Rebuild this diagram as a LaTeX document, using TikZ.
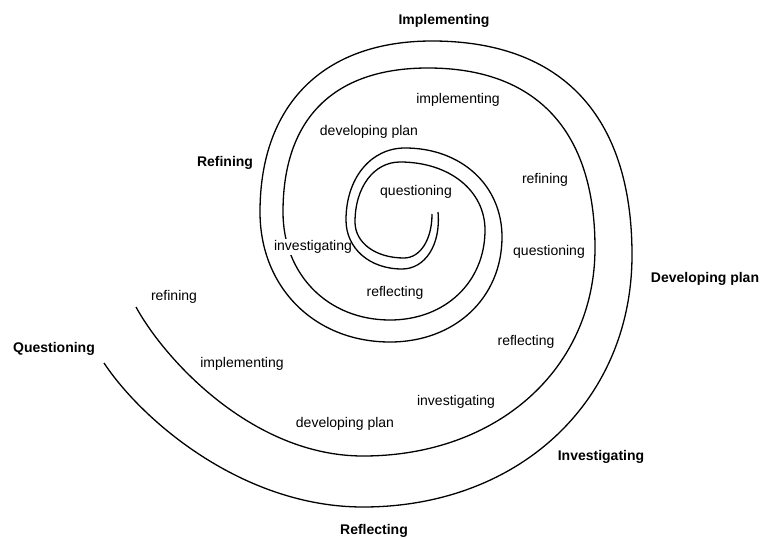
\documentclass[tikz,border=0pt]{standalone}
\usepackage{fontspec}
\setmainfont{Liberation Sans}
\begin{document}
\begin{tikzpicture}
        [x=1pt,y=-1pt,
        phase/.style={font=\fontsize{14}{16}\selectfont\bfseries},
        stage/.style={font=\fontsize{14}{16}\selectfont},
        coil/.style={line width=1.3pt}]
        \useasboundingbox (0,0) rectangle (760,538);
        % inner coil
        \draw [coil] (432,214) .. controls (432,240) and (420,258) .. (404,258)
          .. controls (375.6,258) and (355,242.9) .. (355,222)
          .. controls (355,187.2) and (373.9,162) .. (400,162)
          .. controls (449.3,162) and (485,190.6) .. (485,230)
          .. controls (485,282.2) and (445.1,320) .. (390,320)
          .. controls (327.9,320) and (283,274.6) .. (283,212)
          .. controls (283,118.4) and (333.8,68) .. (428,68)
          .. controls (536.6,68) and (595,131) .. (595,248)
          .. controls (595,368.6) and (497.6,456) .. (363,456)
          .. controls (253,456) and (165,360) .. (136,307);
        \node (inv1) at (313,247) [stage,fill=white,inner sep=1pt] {investigating};
        % outer coil
        \draw [coil] (438,212) .. controls (441,245) and (425,269) .. (402,269)
          .. controls (369.5,269) and (346,248.4) .. (346,220)
          .. controls (346,178.2) and (370.8,148) .. (405,148)
          .. controls (461.3,148) and (502,185.4) .. (502,237)
          .. controls (502,297.9) and (455,342) .. (390,342)
          .. controls (314.6,342) and (260,287.4) .. (260,212)
          .. controls (260,104.3) and (323.6,41) .. (432,41)
          .. controls (562,41) and (632,116) .. (632,255)
          .. controls (632,401.2) and (519,507) .. (363,507)
          .. controls (243,507) and (142.5,421) .. (104,363);
        % outer phases
        \node (impl) at (444,21) [phase] {Implementing};
        \node (refi) at (225,163) [phase] {Refining};
        \node (devp) at (705,279) [phase] {Developing plan};
        \node (ques) at (54,349) [phase] {Questioning};
        \node (invs) at (601,457) [phase] {Investigating};
        \node (refl) at (374,531) [phase] {Reflecting};
        % inner stages
        \node (ques1) at (416,192) [stage] {questioning};
        \node (refl1) at (395,293) [stage] {reflecting};
        \node (devp1) at (369,132) [stage] {developing plan};
        \node (impl1) at (458,100) [stage] {implementing};
        \node (refi1) at (545,180) [stage] {refining};
        \node (ques2) at (549,252) [stage] {questioning};
        \node (refl2) at (526,342) [stage] {reflecting};
        \node (inv2) at (456,402) [stage] {investigating};
        \node (devp2) at (345,424) [stage] {developing plan};
        \node (impl2) at (242,364) [stage] {implementing};
        \node (refi2) at (174,297) [stage] {refining};
\end{tikzpicture}
\end{document}
